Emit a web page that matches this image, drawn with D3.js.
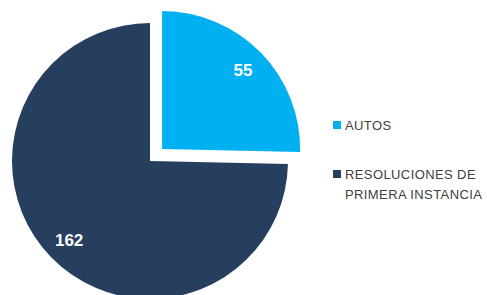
<!DOCTYPE html>
<html>
<head>
<meta charset="utf-8">
<script src="https://cdn.jsdelivr.net/npm/d3@7"></script>
<style>
  body { margin: 0; background: #fff; }
  text { font-family: "Liberation Sans", Arial, sans-serif; }
</style>
</head>
<body>
<script>
var categories = ["AUTOS", "RESOLUCIONES DE PRIMERA INSTANCIA"];
var values = [55, 162];
var legendLines = [["AUTOS"], ["RESOLUCIONES DE", "PRIMERA INSTANCIA"]];
var colors = ["#00B0F0", "#263F5F"];

var totalWidth = 487, totalHeight = 295;
var cx = 150, cy = 161, radius = 138;
var explode = 17;

var svg = d3.select("body").append("svg")
    .attr("width", totalWidth)
    .attr("height", totalHeight);

var pie = d3.pie().sort(null).value(function(d){ return d; });
var arcs = pie(values);

var arc = d3.arc().innerRadius(0).outerRadius(radius);
var labelArc = d3.arc().innerRadius(radius * 0.82).outerRadius(radius * 0.82);

// offset for exploded slice (first one only)
function shift(d, i) {
  if (i !== 0) return [0, 0];
  var a = (d.startAngle + d.endAngle) / 2;
  return [Math.sin(a) * explode, -Math.cos(a) * explode];
}

var g = svg.append("g").attr("transform", "translate(" + cx + "," + cy + ")");

var slices = g.selectAll(".slice")
    .data(arcs)
    .enter().append("g")
    .attr("class", "slice")
    .attr("transform", function(d, i){ var s = shift(d, i); return "translate(" + s[0] + "," + s[1] + ")"; });

slices.append("path")
    .attr("d", arc)
    .attr("fill", function(d, i){ return colors[i]; });

slices.append("text")
    .attr("transform", function(d){ return "translate(" + labelArc.centroid(d) + ")"; })
    .attr("text-anchor", "middle")
    .attr("dy", "0.36em")
    .attr("fill", "#fff")
    .attr("font-weight", "bold")
    .attr("font-size", 17)
    .text(function(d){ return d.value; });

// legend
var legend = svg.append("g").attr("transform", "translate(333,0)");
var legendY = [125, 174];

var items = legend.selectAll(".item")
    .data(categories)
    .enter().append("g")
    .attr("class", "item")
    .attr("transform", function(d, i){ return "translate(0," + legendY[i] + ")"; });

items.append("rect")
    .attr("x", 0).attr("y", -4)
    .attr("width", 8).attr("height", 8)
    .attr("fill", function(d, i){ return colors[i]; });

items.each(function(d, i){
  var t = d3.select(this).append("text")
      .attr("x", 12)
      .attr("y", 0)
      .attr("fill", "#404040")
      .attr("font-size", 13)
      .attr("letter-spacing", 0.4);
  legendLines[i].forEach(function(line, j){
    t.append("tspan")
      .attr("x", 12)
      .attr("dy", j === 0 ? "0.36em" : 20)
      .text(line);
  });
});
</script>
</body>
</html>
